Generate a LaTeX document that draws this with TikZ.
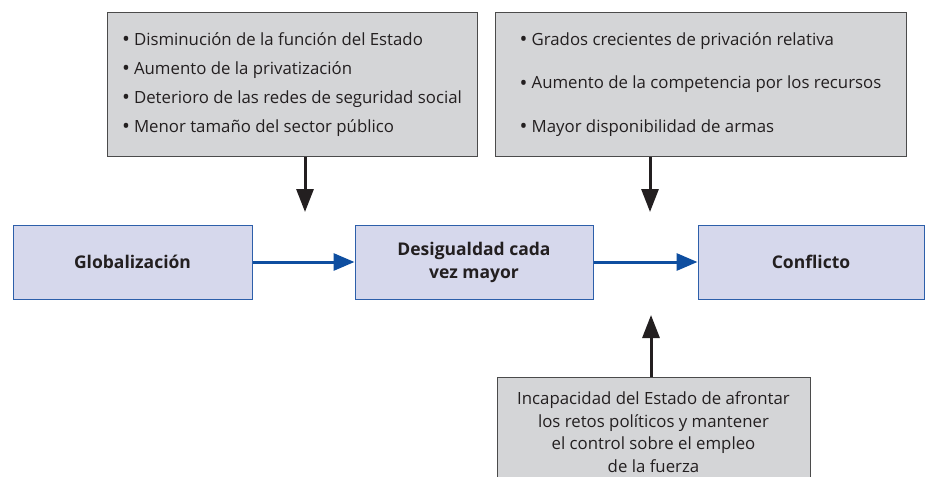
\documentclass[tikz,border=0pt]{standalone}
\usepackage{fontspec}
\setmainfont{Open Sans}
\usetikzlibrary{arrows.meta}
\definecolor{cajagris}{RGB}{212,213,215}
\definecolor{bordegris}{RGB}{75,75,75}
\definecolor{cajaazul}{RGB}{214,216,236}
\definecolor{bordeazul}{RGB}{45,95,170}
\definecolor{flechaazul}{RGB}{14,78,160}
\definecolor{texto}{RGB}{35,31,32}
\newcommand{\vineta}{{\fontsize{21}{0}\selectfont\raisebox{-1.2pt}{\textbullet}}\hspace{4pt}}

\begin{document}
\begin{tikzpicture}[
  x=1pt, y=-1pt,
  factor/.style={draw=bordegris, fill=cajagris, line width=1pt, inner sep=0pt,
    text=texto, minimum height=144pt},
  etapa/.style={draw=bordeazul, fill=cajaazul, line width=1pt, inner sep=0pt,
    text=texto, minimum height=74pt, align=center,
    font=\fontsize{17.5}{23}\selectfont\bfseries},
  enlace/.style={draw=flechaazul, line width=3pt,
    -{Triangle[length=21pt, width=17pt]}},
  empuje/.style={draw=texto, line width=3pt,
    -{Triangle[length=23pt, width=17pt]}}
]
  \useasboundingbox (0,0) rectangle (925,476);

  % factores de arriba
  \node[factor, minimum width=370pt, align=left,
    font=\fontsize{16.8}{29}\selectfont] (estado) at (292,84.5)
    {\vineta Disminución de la función del Estado\\
     \vineta Aumento de la privatización\\
     \vineta Deterioro de las redes de seguridad social\\
     \vineta Menor tamaño del sector público};
  \node[factor, minimum width=411pt, align=left,
    font=\fontsize{16.8}{43.5}\selectfont] (privacion) at (700.5,84.5)
    {\vineta Grados crecientes de privación relativa\\
     \vineta Aumento de la competencia por los recursos\\
     \vineta Mayor disponibilidad de armas};

  % cadena principal
  \node[etapa, minimum width=239pt] (glob) at (132.5,262) {Globalización};
  \node[etapa, minimum width=238pt] (desig) at (474,262) {Desigualdad cada\\vez mayor};
  \node[etapa, minimum width=226pt] (conf) at (811,262) {Conflicto};

  % factor de abajo
  \node[factor, minimum width=313pt, minimum height=110pt, align=center,
    font=\fontsize{16.8}{22.5}\selectfont]
    (incap) at (653.5,432)
    {Incapacidad del Estado de afrontar\\los retos políticos y mantener\\
     el control sobre el empleo\\de la fuerza};

  \draw[enlace] (glob) -- (desig);
  \draw[enlace] (desig) -- (conf);

  \coordinate (punta1) at (305,212);
  \coordinate (punta2) at (650,212);
  \coordinate (punta3) at (651,315);
  \draw[empuje] (estado.south -| punta1) -- (punta1);
  \draw[empuje] (privacion.south -| punta2) -- (punta2);
  \draw[empuje] (incap.north -| punta3) -- (punta3);
\end{tikzpicture}
\end{document}
